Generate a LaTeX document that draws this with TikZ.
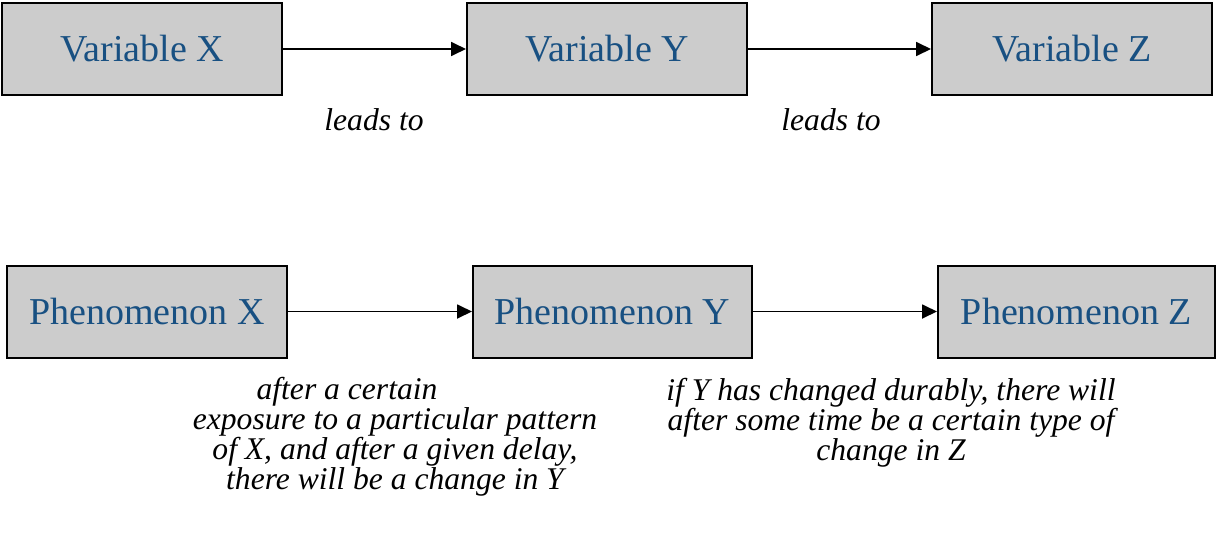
\documentclass[tikz,border=0pt]{standalone}
\usepackage{fontspec}
\setmainfont{Liberation Serif}
\usetikzlibrary{arrows.meta}
\definecolor{boxtext}{RGB}{24,80,130}
\definecolor{boxfill}{RGB}{204,204,204}
\newcommand{\tightlines}{\lineskiplimit=-100pt\relax}
\begin{document}
	\begin{tikzpicture}[x=0.5pt,y=-0.5pt,
		box/.style={draw=black,line width=1pt,fill=boxfill,text=boxtext,
			font=\fontsize{19}{22}\selectfont,minimum height=46pt,inner sep=0pt},
		link/.style={line width=0.9pt,-{Triangle[length=7.5pt,width=7pt]}},
		note/.style={font={\fontsize{15.8}{15}\selectfont\itshape\tightlines},
			align=center,inner sep=0pt}]
		\useasboundingbox (0,0) rectangle (1216,542);
		% top row
		\node[box,minimum width=140pt] (VX) at (142,49) {Variable X};
		\node[box,minimum width=140pt] (VY) at (607,49) {Variable Y};
		\node[box,minimum width=140pt] (VZ) at (1072,49) {Variable Z};
		\draw[link] (VX) to (VY);
		\draw[link] (VY) to (VZ);
		\node[note] (L1) at (374,120) {leads to};
		\node[note] (L2) at (831,120) {leads to};
		% bottom row
		\node[box,minimum width=140pt] (PX) at (147,311.5) {Phenomenon X};
		\node[box,minimum width=139.5pt] (PY) at (612.5,311.5) {Phenomenon Y};
		\node[box,minimum width=138.5pt] (PZ) at (1076.5,311.5) {Phenomenon Z};
		\draw[link] (PX) to (PY);
		\draw[link] (PY) to (PZ);
		\node[note] (T1) at (395,437) {after a certain\hspace*{48pt}\\
			exposure to a particular pattern\\
			of X, and after a given delay,\\
			there will be a change in Y};
		\node[note] (T2) at (891,423) {if Y has changed durably, there will\\
			after some time be a certain type of\\
			change in Z};
	\end{tikzpicture}
\end{document}
